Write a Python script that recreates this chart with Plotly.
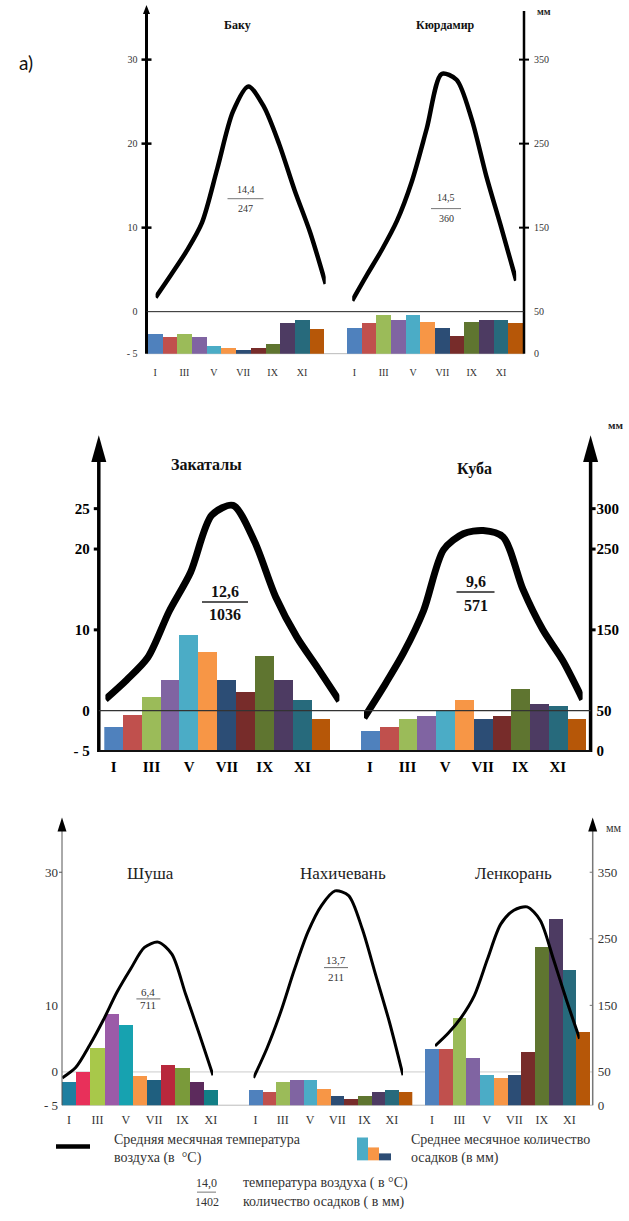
import plotly.graph_objects as go

W, H = 629, 1221


def px(x):
    return x / W


def py(y):
    return 1 - y / H


# ---------------- data ----------------
months = list(range(1, 13))
roman_vals = [1, 3, 5, 7, 9, 11]
roman_text = ["I", "III", "V", "VII", "IX", "XI"]

baku_temp = [1.7, 4.4, 7.2, 10.6, 17.1, 23.8, 26.8, 24.4, 19.9, 14.4, 9.4, 3.3]
baku_prec = [24, 20, 24, 20, 9, 7, 5, 7, 11, 36, 40, 30]
kurd_temp = [1.3, 4.4, 7.4, 10.8, 15.5, 21.8, 28.3, 27.6, 23.0, 16.1, 10.0, 3.7]
kurd_prec = [31, 36, 46, 40, 46, 38, 31, 21, 38, 40, 40, 36]
zak_temp = [1.4, 3.8, 6.6, 12.3, 17.1, 24.2, 25.4, 21.0, 14.1, 9.1, 5.2, 1.2]
zak_prec = [29, 44, 67, 88, 144, 122, 88, 73, 117, 88, 63, 39]
kuba_temp = [-0.9, 3.0, 7.2, 12.4, 19.9, 21.9, 22.3, 21.5, 15.0, 10.0, 6.2, 1.4]
kuba_prec = [25, 29, 39, 43, 50, 63, 39, 43, 77, 58, 55, 39]
shusha_temp = [-0.9, 0.7, 4.0, 7.8, 12.0, 15.5, 18.7, 19.5, 17.7, 11.7, 5.7, -0.5]
shusha_prec = [35, 50, 87, 137, 121, 44, 39, 61, 57, 35, 24]
nakh_temp = [-0.9, 3.6, 9.0, 15.3, 21.0, 25.0, 27.2, 26.5, 21.5, 14.5, 7.5, -0.5]
nakh_prec = [24, 20, 35, 39, 39, 25, 15, 10, 15, 20, 24, 20]
lenk_temp = [3.9, 5.8, 8.2, 11.5, 17.0, 22.2, 24.3, 24.8, 22.8, 17.0, 10.8, 5.0]
lenk_prec = [85, 85, 131, 71, 46, 41, 46, 80, 239, 280, 203, 111]

station_names = ["Баку", "Кюрдамир", "Закаталы", "Куба", "Шуша", "Нахичевань", "Ленкорань"]
fractions = {"Баку": ("14,4", "247"), "Кюрдамир": ("14,5", "360"),
             "Закаталы": ("12,6", "1036"), "Куба": ("9,6", "571"),
             "Шуша": ("6,4", "711"), "Нахичевань": ("13,7", "211")}

temp_ticks = [-5, 0, 10, 20, 30]
temp_ticks2 = [-5, 0, 10, 20, 25]
temp_ticks3 = [-5, 0, 10, 30]
prec_ticks = [0, 50, 150, 250, 350]
prec_ticks2 = [0, 50, 150, 250, 300]

std_colors = ["#4f81bd", "#c0504d", "#9bbb59", "#8064a2", "#4bacc6", "#f79646",
              "#2c4d75", "#772c2a", "#5f7530", "#4d3b62", "#276a7c", "#b65708"]
shusha_colors = ["#1f7fa0", "#e8305a", "#a8c84a", "#9b5ba8", "#17a2b0", "#f79646",
                 "#1f5f7f", "#b8283c", "#7a9a3a", "#5c2a5c", "#127f86"]

# ---------------- layout geometry (pixels) ----------------
SERIF = "Liberation Serif"
panels = [
    dict(ytop=8, ybot=356, pxdeg=8.457, left=146.5, right=524,
         tt=temp_ticks, pt=prec_ticks, fsz=10, bold=False, tcol="#333",
         lstand=9, rstand=9, xstand=11, xfsz=10),
    dict(ytop=438, ybot=756, pxdeg=8.133, left=98.8, right=590.6,
         tt=temp_ticks2, pt=prec_ticks2, fsz=15, bold=True, tcol="#000",
         lstand=9, rstand=5, xstand=5, xfsz=15),
    dict(ytop=823, ybot=1112.5, pxdeg=6.7, left=62, right=592.7,
         tt=temp_ticks3, pt=prec_ticks, fsz=13, bold=False, tcol="#333",
         lstand=4, rstand=4, xstand=6, xfsz=12),
]
stations = [
    dict(name="Баку", t=baku_temp, p=baku_prec, c=std_colors, pan=0,
         bar=(147.7, 324), line=(155.6, 325.7), lw=4.5, title=(237.5, 25), frac=(245.5, 191, 210, 200, 36)),
    dict(name="Кюрдамир", t=kurd_temp, p=kurd_prec, c=std_colors, pan=0,
         bar=(347, 523), line=(352.2, 516.2), lw=4.5, title=(445, 25), frac=(446, 199, 220, 210, 30)),
    dict(name="Закаталы", t=zak_temp, p=zak_prec, c=std_colors, pan=1,
         bar=(104.3, 330.7), line=(105.4, 339.4), lw=7, title=(207, 468), frac=(225, 595, 619, 606, 46)),
    dict(name="Куба", t=kuba_temp, p=kuba_prec, c=std_colors, pan=1,
         bar=(360.5, 586), line=(364, 582.6), lw=7, title=(474, 472), frac=(475.5, 585, 609, 596, 38)),
    dict(name="Шуша", t=shusha_temp, p=shusha_prec, c=shusha_colors, pan=2,
         bar=(62, 218), line=(62.2, 213), lw=3, title=(150.4, 879), frac=(148.4, 999, 1012, 1005.5, 24)),
    dict(name="Нахичевань", t=nakh_temp, p=nakh_prec, c=std_colors, pan=2,
         bar=(248.7, 412.3), line=(253.5, 403), lw=3, title=(343, 879), frac=(336, 966, 983, 974, 24)),
    dict(name="Ленкорань", t=lenk_temp, p=lenk_prec, c=std_colors, pan=2,
         bar=(425, 590), line=(435, 579.6), lw=3, title=(513.4, 879), frac=None),
]

fig = go.Figure()
layout = dict(width=W, height=H, margin=dict(l=0, r=0, t=0, b=0),
              paper_bgcolor="white", plot_bgcolor="rgba(0,0,0,0)",
              showlegend=False, bargap=0)
shapes = []
annotations = []


def axkey(prefix, n):
    return prefix + ("axis" if n == 1 else "axis%d" % n)


def axid(prefix, n):
    return prefix if n == 1 else "%s%d" % (prefix, n)


# y axes: panel i -> precip axis 2i+1, temp axis 2i+2
for i, pn in enumerate(panels):
    tmin = -5
    ttop = tmin + (pn["ybot"] - pn["ytop"]) / pn["pxdeg"]
    ptop = 10 * ttop + 50
    dom = [py(pn["ybot"]), py(pn["ytop"])]
    font = dict(family=SERIF, size=pn["fsz"], color=pn["tcol"])
    if pn["bold"]:
        font["weight"] = "bold"
    layout[axkey("y", 2 * i + 1)] = dict(
        domain=dom, range=[0, ptop], anchor="free", position=px(pn["right"]), side="right",
        tickvals=pn["pt"], ticktext=[str(v) for v in pn["pt"]], ticks="", showgrid=False,
        zeroline=False, showline=False, tickfont=font, ticklabelstandoff=pn["rstand"])
    layout[axkey("y", 2 * i + 2)] = dict(
        domain=dom, range=[tmin, ttop], anchor="free", position=px(pn["left"]), side="left",
        tickvals=pn["tt"], ticktext=[("- 5" if v == -5 else str(v)) for v in pn["tt"]], ticks="",
        showgrid=False, zeroline=False, showline=False, tickfont=font,
        ticklabelstandoff=pn["lstand"])
    pn["ttop"] = ttop
    pn["ptop"] = ptop

for k, st in enumerate(stations):
    pn = panels[st["pan"]]
    i = st["pan"]
    nb = len(st["p"])
    xb, xl = 2 * k + 1, 2 * k + 2
    yp, yt = axid("y", 2 * i + 1), axid("y", 2 * i + 2)
    xfont = dict(family=SERIF, size=pn["xfsz"], color=pn["tcol"])
    if pn["bold"]:
        xfont["weight"] = "bold"
    layout[axkey("x", xb)] = dict(
        domain=[px(st["bar"][0]), px(st["bar"][1])], range=[0.5, nb + 0.5], anchor=yp,
        tickvals=roman_vals, ticktext=roman_text, ticks="", showgrid=False, zeroline=False,
        showline=False, tickfont=xfont, ticklabelstandoff=pn["xstand"])
    layout[axkey("x", xl)] = dict(
        domain=[px(st["line"][0]), px(st["line"][1])], range=[1, 12], anchor=yt, visible=False)
    fig.add_trace(go.Bar(x=months[:nb], y=st["p"], marker=dict(color=st["c"][:nb], line=dict(width=0)),
                         width=1, xaxis=axid("x", xb), yaxis=yp, hoverinfo="skip"))

# lines after bars so they sit on top
for k, st in enumerate(stations):
    i = st["pan"]
    fig.add_trace(go.Scatter(x=months, y=st["t"], mode="lines",
                             line=dict(color="black", width=st["lw"], shape="spline", smoothing=0.8),
                             xaxis=axid("x", 2 * k + 2), yaxis=axid("y", 2 * i + 2), hoverinfo="skip"))


def line(x0, y0, x1, y1, color="black", width=1, layer="above"):
    shapes.append(dict(type="line", xref="paper", yref="paper", x0=px(x0), y0=py(y0),
                       x1=px(x1), y1=py(y1), line=dict(color=color, width=width), layer=layer))


def tri(xc, ytip, ybase, hw, color="black"):
    path = "M %f,%f L %f,%f L %f,%f Z" % (px(xc), py(ytip), px(xc - hw), py(ybase), px(xc + hw), py(ybase))
    shapes.append(dict(type="path", xref="paper", yref="paper", path=path,
                       fillcolor=color, line=dict(width=0), layer="above"))


def rect(x0, y0, x1, y1, color):
    shapes.append(dict(type="rect", xref="paper", yref="paper", x0=px(x0), y0=py(y1),
                       x1=px(x1), y1=py(y0), fillcolor=color, line=dict(width=0), layer="above"))


def text(x, y, s, size=12, bold=False, color="#000", xanchor="center", family=SERIF, align="center"):
    f = dict(family=family, size=size, color=color)
    if bold:
        f["weight"] = "bold"
    annotations.append(dict(x=px(x), y=py(y), xref="paper", yref="paper", text=s, showarrow=False,
                            font=f, xanchor=xanchor, yanchor="middle", align=align))


def ydata(pn, t):
    return pn["ybot"] - (t + 5) * pn["pxdeg"]


# ---- panel 1 decorations ----
p1 = panels[0]
line(p1["left"], p1["ybot"], p1["left"], 12, width=3)
tri(p1["left"], 5, 14, 3.5)
line(p1["right"], p1["ybot"], p1["right"], 11, width=2.5)
for t in [10, 20, 30]:
    y = ydata(p1, t)
    line(p1["left"] - 5, y, p1["left"] + 5, y, width=2.5)
    line(p1["right"] - 5, y, p1["right"] + 5, y, width=2)
line(p1["left"], ydata(p1, 0), p1["right"], ydata(p1, 0), color="#222", width=1)
line(p1["left"], p1["ybot"], p1["right"], p1["ybot"], color="#bbb", width=1, layer="below")
text(543.5, 12, "мм", size=10, bold=True, color="#222")
text(26, 63, "a)", size=19, color="#111", family="Lato")

# ---- panel 2 decorations ----
p2 = panels[1]
line(p2["left"], p2["ybot"] + 1, p2["left"], 455, width=3.5)
tri(p2["left"], 438, 465, 7.5)
line(p2["right"], p2["ybot"] + 1, p2["right"], 455, width=3.5)
tri(p2["right"], 438, 465, 7.5)
for t in [10, 20, 25]:
    y = ydata(p2, t)
    line(p2["left"] - 5, y, p2["left"], y, width=3)
    line(p2["right"], y, p2["right"] + 5, y, width=3)
line(p2["left"], ydata(p2, 0), p2["right"], ydata(p2, 0), color="#333", width=1.2)
line(p2["left"], p2["ybot"], p2["right"], p2["ybot"], color="#111", width=2)
text(615, 428, "мм", size=11, bold=True, color="#222")

# ---- panel 3 decorations ----
p3 = panels[2]
line(p3["left"], p3["ybot"], p3["left"], 830, color="#555", width=1)
tri(p3["left"], 823, 837, 4.5)
line(p3["right"], p3["ybot"], p3["right"], 830, color="#777", width=1.5)
tri(p3["right"], 823, 837, 4.5)
line(p3["left"] - 3, ydata(p3, 30), p3["left"], ydata(p3, 30), color="#555", width=1)
for t in [10, 20, 30]:
    y = ydata(p3, t)
    line(p3["right"] - 3, y, p3["right"], y, color="#777", width=1)
line(p3["left"], ydata(p3, 0), p3["right"], ydata(p3, 0), color="#ccc", width=1, layer="below")
line(p3["left"], p3["ybot"], p3["right"], p3["ybot"], color="#bbb", width=1, layer="below")
text(614, 833, "мм", size=12, color="#333")

# ---- titles and fractions ----
for st in stations:
    pan = st["pan"]
    tx, ty = st["title"]
    if pan == 0:
        text(tx, ty, st["name"], size=12, bold=True, color="#111")
    elif pan == 1:
        text(tx, ty, st["name"], size=16, bold=True, color="#111")
    else:
        text(tx, ty, st["name"], size=17, color="#222")
    if st["frac"] is not None:
        fx, fy1, fy2, fl, fw = st["frac"]
        num, den = fractions[st["name"]]
        if pan == 0:
            text(fx, fy1, num, size=10, color="#333")
            text(fx, fy2, den, size=10, color="#333")
            line(fx - fw / 2, fl, fx + fw / 2, fl, color="#777", width=1)
        elif pan == 1:
            text(fx, fy1, num, size=16, bold=True, color="#111")
            text(fx, fy2, den, size=16, bold=True, color="#111")
            line(fx - fw / 2, fl, fx + fw / 2, fl, color="#222", width=1.5)
        else:
            text(fx, fy1, num, size=11, color="#333")
            text(fx, fy2, den, size=11, color="#333")
            line(fx - fw / 2, fl, fx + fw / 2, fl, color="#444", width=0.8)

# ---- legend ----
line(56, 1154, 90, 1154, width=4.5)
text(111.5, 1157, "Средняя месячная температура<br>воздуха (в  °С)", size=14, color="#333",
     xanchor="left", align="left")
rect(357, 1145, 368, 1168, "#4bacc6")
rect(368, 1155, 379, 1168, "#f79646")
rect(379, 1161, 391, 1168, "#2c4d75")
text(409, 1157, "Среднее месячное количество<br>осадков (в мм)", size=14, color="#333",
     xanchor="left", align="left")
text(206.6, 1191, "14,0", size=12, color="#333")
line(197, 1200, 216, 1200, color="#555", width=0.8)
text(206.6, 1210, "1402", size=12, color="#333")
text(240.7, 1191, "температура воздуха ( в °С)", size=14, color="#333", xanchor="left")
text(240.7, 1210, "количество осадков ( в мм)", size=14, color="#333", xanchor="left")

layout["shapes"] = shapes
layout["annotations"] = annotations
fig.update_layout(**layout)
fig.write_html("out.html")
